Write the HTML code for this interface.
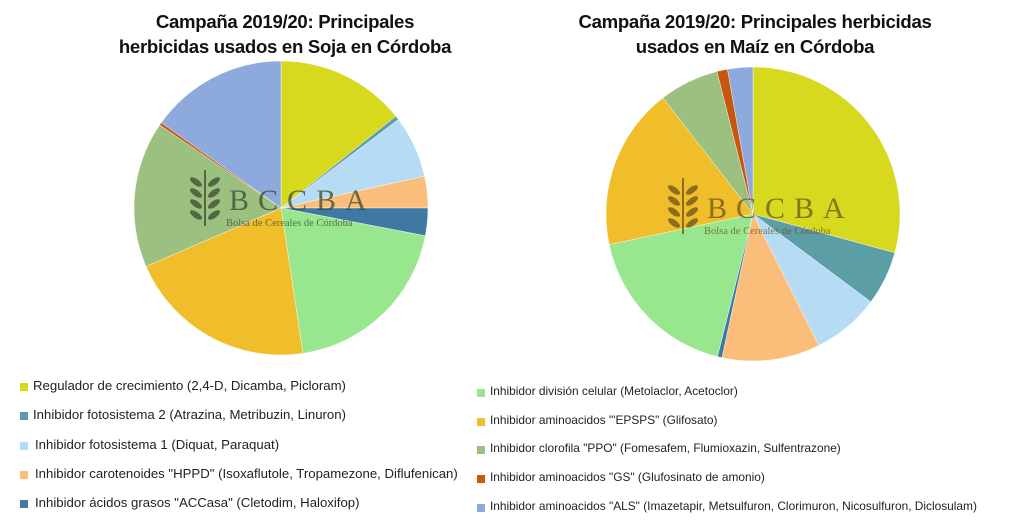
<!DOCTYPE html>
<html><head><meta charset="utf-8"><style>
body{margin:0;width:1024px;height:532px;background:#fff;overflow:hidden;position:relative;font-family:"Liberation Sans",sans-serif}
.t{position:absolute;font-weight:bold;font-size:18.6px;color:#111;text-align:center;line-height:25px;letter-spacing:-0.3px}
.l{position:absolute;font-size:13.2px;color:#222;white-space:nowrap}
.r{position:absolute;font-size:11.9px;color:#222;white-space:nowrap}
.s{position:absolute;width:8px;height:8px}
</style></head><body>
<div class="t" style="left:80px;top:9px;width:410px">Campaña 2019/20: Principales<br>herbicidas usados en Soja en Córdoba</div>
<div class="t" style="left:550px;top:9px;width:410px">Campaña 2019/20: Principales herbicidas<br>usados en Maíz en Córdoba</div>
<svg id="sv" width="1024" height="532" style="position:absolute;left:0;top:0"></svg>
<script>
var C=["#D6D91E","#5B9EA6","#B6DBF5","#FBBE7A","#3F79A3","#98E68E","#F0BE2A","#9CC07F","#C8560F","#8EA9DB"];
function pie(cx,cy,r,b){var s="",a0=0;for(var i=0;i<b.length;i++){var a1=b[i];var x0=cx+r*Math.sin(a0*Math.PI/180),y0=cy-r*Math.cos(a0*Math.PI/180),x1=cx+r*Math.sin(a1*Math.PI/180),y1=cy-r*Math.cos(a1*Math.PI/180);s+='<path d="M'+cx+','+cy+'L'+x0+','+y0+'A'+r+','+r+' 0 '+(a1-a0>180?1:0)+' 1 '+x1+','+y1+'Z" fill="'+C[i]+'" stroke="#fff" stroke-width="0.4"/>';a0=a1;}return s;}
var svg=pie(281,208,147,[51.4,53,77.5,90,100.9,171.4,246.6,304.4,305.5,360])+pie(753,214,147,[105.3,126.7,153.4,192.2,194,258,322.2,345.8,350,360]);
function wm(x,y,c){return '<g opacity="0.75" fill="'+c+'"><rect x="'+(x+2)+'" y="'+(y-30)+'" width="2" height="56"/>'+[0,1,2,3].map(function(k){return '<ellipse cx="'+(x-6)+'" cy="'+(y-18+k*11)+'" rx="7" ry="3" transform="rotate(35 '+(x-6)+' '+(y-18+k*11)+')"/><ellipse cx="'+(x+12)+'" cy="'+(y-18+k*11)+'" rx="7" ry="3" transform="rotate(-35 '+(x+12)+' '+(y-18+k*11)+')"/>'}).join('')+'<text x="'+(x+27)+'" y="'+(y+10)+'" font-family=\'Liberation Serif\' font-size="30" letter-spacing="9">BCCBA</text><text x="'+(x+24)+'" y="'+(y+26)+'" font-family=\'Liberation Serif\' font-size="10.5">Bolsa de Cereales de Córdoba</text></g>';}
svg+=wm(202,200,"#3d4a30")+wm(680,208,"#6a5418");
document.getElementById("sv").innerHTML=svg;
</script>
<div class="s" style="left:20px;top:383px;background:#D6D91E"></div><div class="l" style="left:33px;top:378px">Regulador de crecimiento (2,4-D, Dicamba, Picloram)</div>
<div class="s" style="left:20px;top:412px;background:#5B9EA6"></div><div class="l" style="left:33px;top:407px">Inhibidor fotosistema 2 (Atrazina, Metribuzin, Linuron)</div>
<div class="s" style="left:20px;top:442px;background:#B6DBF5"></div><div class="l" style="left:35px;top:437px">Inhibidor fotosistema 1 (Diquat, Paraquat)</div>
<div class="s" style="left:20px;top:471px;background:#FBBE7A"></div><div class="l" style="left:35px;top:466px">Inhibidor carotenoides "HPPD" (Isoxaflutole, Tropamezone, Diflufenican)</div>
<div class="s" style="left:20px;top:500px;background:#3F79A3"></div><div class="l" style="left:35px;top:495px">Inhibidor ácidos grasos "ACCasa" (Cletodim, Haloxifop)</div>
<div class="s" style="left:477px;top:389px;background:#98E68E"></div><div class="r" style="left:490px;top:384px">Inhibidor división celular (Metolaclor, Acetoclor)</div>
<div class="s" style="left:477px;top:418px;background:#F0BE2A"></div><div class="r" style="left:490px;top:413px">Inhibidor aminoacidos "'EPSPS" (Glifosato)</div>
<div class="s" style="left:477px;top:446px;background:#9CC07F"></div><div class="r" style="left:490px;top:441px">Inhibidor clorofila "PPO" (Fomesafem, Flumioxazin, Sulfentrazone)</div>
<div class="s" style="left:477px;top:475px;background:#C8560F"></div><div class="r" style="left:490px;top:470px">Inhibidor aminoacidos "GS" (Glufosinato de amonio)</div>
<div class="s" style="left:477px;top:504px;background:#8EA9DB"></div><div class="r" style="left:490px;top:499px">Inhibidor aminoacidos "ALS" (Imazetapir, Metsulfuron, Clorimuron, Nicosulfuron, Diclosulam)</div>
</body></html>
